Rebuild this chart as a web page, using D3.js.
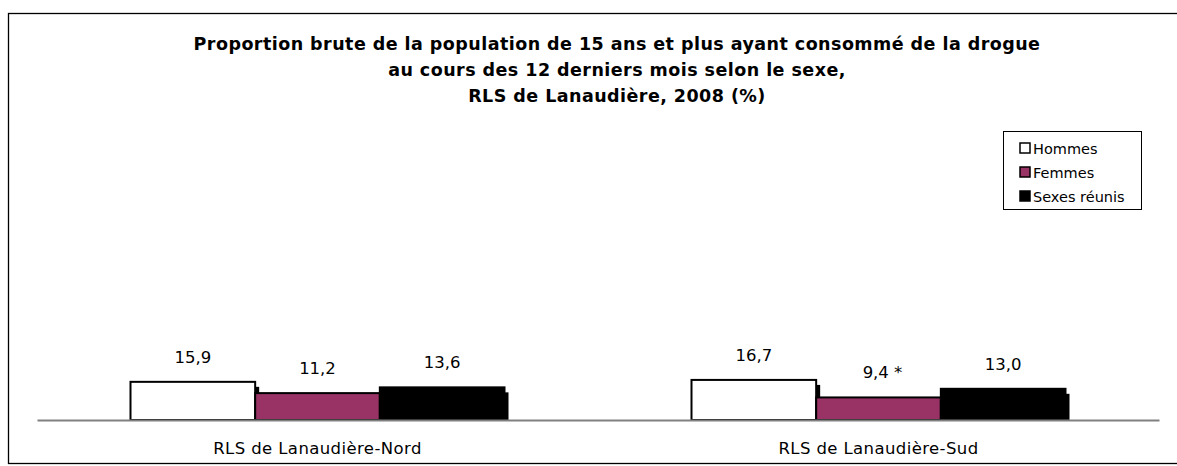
<!DOCTYPE html>
<html><head><meta charset="utf-8">
<script src="https://cdn.jsdelivr.net/npm/d3@7"></script>
<style>body{margin:0;background:#fff;} svg{display:block;}</style>
</head><body>
<script>
const categories = ["RLS de Lanaudière-Nord", "RLS de Lanaudière-Sud"];
const series = ["Hommes", "Femmes", "Sexes réunis"];
const hommes = [15.9, 16.7];
const femmes = [11.2, 9.4];
const sexesReunis = [13.6, 13.0];
const valueLabels = [["15,9", "11,2", "13,6"], ["16,7", "9,4 *", "13,0"]];
const colors = ["#ffffff", "#993366", "#000000"];
const titleLines = ["Proportion brute de la population de 15 ans et plus ayant consommé de la drogue",
  "au cours des 12 derniers mois selon le sexe,", "RLS de Lanaudière, 2008 (%)"];

const W = 1177, H = 466;
const svg = d3.select("body").append("svg").attr("width", W).attr("height", H);
svg.append("rect").attr("x", 8.5).attr("y", 13.5).attr("width", 1180).attr("height", 450)
  .attr("fill", "#fff").attr("stroke", "#000").attr("stroke-width", 1.3);

const font = "'DejaVu Sans', sans-serif";

svg.append("g").selectAll("text").data(titleLines).join("text")
  .attr("x", 617).attr("y", (d, i) => 50 + i * 26)
  .attr("text-anchor", "middle").attr("font-family", "'DejaVu Sans', sans-serif")
  .attr("font-weight", "bold").attr("font-size", 17.5).attr("letter-spacing", 0.45)
  .attr("fill", "#000").text(d => d);

const x0 = d3.scaleBand().domain(categories).range([37, 1159]).paddingInner(0).paddingOuter(0);
const x1 = d3.scaleBand().domain(series).range([0, x0.bandwidth() * 2 / 3]);
const y = d3.scaleLinear().domain([0, 100]).range([420, 180]);

const data = categories.map((c, i) => ({cat: c, vals: [hommes[i], femmes[i], sexesReunis[i]]}));
const off = x0.bandwidth() / 6;

const groups = svg.append("g").selectAll("g").data(data).join("g")
  .attr("transform", d => `translate(${x0(d.cat) + off},0)`);

// shadows
groups.selectAll("rect.shadow").data(d => d.vals.map((v, j) => ({v, s: series[j]})))
  .join("rect").attr("class", "shadow")
  .attr("x", d => x1(d.s) + 4).attr("y", d => y(d.v) + 5)
  .attr("width", x1.bandwidth()).attr("height", d => Math.max(0, y(0) - y(d.v) - 5))
  .attr("fill", "#000");

groups.selectAll("rect.bar").data(d => d.vals.map((v, j) => ({v, s: series[j], j})))
  .join("rect").attr("class", "bar")
  .attr("x", d => x1(d.s)).attr("y", d => y(d.v))
  .attr("width", x1.bandwidth()).attr("height", d => y(0) - y(d.v))
  .attr("fill", d => colors[d.j]).attr("stroke", "#000").attr("stroke-width", 2);

groups.each(function(d, i) {
  d3.select(this).selectAll("text.val").data(d.vals.map((v, j) => ({v, s: series[j], j})))
    .join("text").attr("class", "val")
    .attr("x", e => x1(e.s) + x1.bandwidth() / 2 + (e.j === 1 && i === 1 ? 4 : 0))
    .attr("y", e => y(e.v) - 19)
    .attr("text-anchor", "middle").attr("font-family", font).attr("font-size", 16.5)
    .attr("fill", "#000").text(e => valueLabels[i][e.j]);
});

// axis
const ax = svg.append("g").attr("transform", "translate(0,420)")
  .call(d3.axisBottom(x0).tickSize(0).tickPadding(22));
ax.select(".domain").attr("stroke", "#808080").attr("stroke-width", 2);
ax.selectAll("text").attr("font-family", font).attr("font-size", 16.5)
  .attr("letter-spacing", 0.4).attr("fill", "#000");

// legend
const lg = svg.append("g");
lg.append("rect").attr("x", 1003.5).attr("y", 131.5).attr("width", 138).attr("height", 78)
  .attr("fill", "#fff").attr("stroke", "#000").attr("stroke-width", 1);
const li = lg.selectAll("g").data(series).join("g")
  .attr("transform", (d, i) => `translate(1020,${148 + i * 24})`);
li.append("rect").attr("x", 0).attr("y", -5).attr("width", 10).attr("height", 10)
  .attr("fill", (d, i) => colors[i]).attr("stroke", "#000").attr("stroke-width", 1.5);
li.append("text").attr("x", 13).attr("y", 5.5).attr("font-family", font).attr("font-size", 14.5)
  .attr("fill", "#000").text(d => d);
</script>
</body></html>
